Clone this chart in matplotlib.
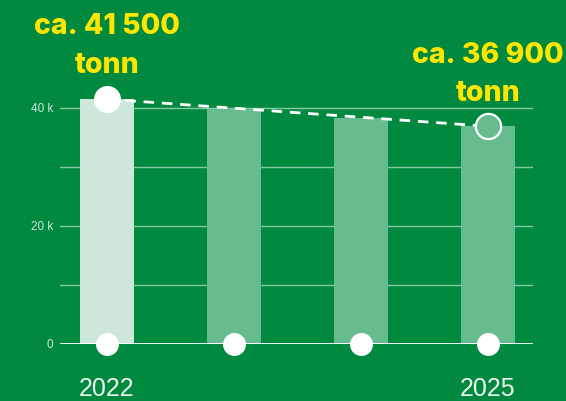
import matplotlib.pyplot as plt
import matplotlib.transforms as mtransforms
import numpy as np

plt.rcParams['font.family'] = ['Liberation Sans', 'DejaVu Sans']

# data
years = ['2022', '2023', '2024', '2025']
values = [41500, 39800, 38300, 36900]
year_labels = ['2022', '', '', '2025']
ticks = [0, 20000, 40000]
tick_labels = ['0', '20 k', '40 k']
grid_vals = [10000, 20000, 30000, 40000]
first_note = ['ca. 41 500', 'tonn']
last_note = ['ca. 36 900', 'tonn']

BG = '#00893F'
LIGHT = '#CDE8D8'
MID = '#66BB8F'
YELLOW = '#FFE600'

W, H = 566, 401
fig = plt.figure(figsize=(W / 100, H / 100), dpi=100, facecolor=BG)
# axes area in pixels: x 60..533, baseline at y=344, 40k at y=108
ax = fig.add_axes([60 / W, (H - 344) / H, 473 / W, 294 / H])
ax.set_facecolor(BG)
ax.set_xlim(-47 / 127, 426 / 127)
ax.set_ylim(0, 294 * 40000 / 236)

x = np.arange(len(values))
colors = [LIGHT] + [MID] * (len(values) - 1)

for g in grid_vals:
    ax.axhline(g, color='#a6d8bc', lw=1, alpha=0.8, zorder=1)
ax.bar(x, values, width=54 / 127, color=colors, zorder=2)
ax.axhline(0, color='white', lw=2, zorder=3)

# trend line between first and last
ax.plot([x[0], x[-1]], [values[0], values[-1]], color='white', lw=2,
        ls=(0, (3.8, 2.8)), zorder=4)
ax.scatter([x[0]], [values[0]], s=340, color='white', zorder=5, clip_on=False)
ax.scatter([x[-1]], [values[-1]], s=330, facecolor=MID, edgecolor='white',
           linewidth=1.6, zorder=5, clip_on=False)
ax.scatter(x, [0] * len(x), s=240, color='white', zorder=5, clip_on=False)

# x in data, y in figure pixels (from top)
trans = mtransforms.blended_transform_factory(ax.transData, fig.transFigure)


def note(xc, lines, baselines):
    for line, py in zip(lines, baselines):
        ax.text(xc, (H - py) / H, line, transform=trans, ha='center',
                va='baseline', fontsize=20.5, fontweight='heavy',
                color=YELLOW, family=['Inter', 'DejaVu Sans'], clip_on=False)


note(x[0], first_note, [34, 73])
note(x[-1], last_note, [63, 101])

for xi, lab in zip(x, year_labels):
    ax.text(xi, (H - 396) / H, lab, transform=trans, ha='center',
            va='baseline', fontsize=18, color='#eef7f1')

ax.set_yticks(ticks)
ax.set_yticklabels(tick_labels, fontsize=8.5, color=LIGHT)
ax.tick_params(axis='y', length=0, pad=5)
ax.set_xticks([])
for s in ax.spines.values():
    s.set_visible(False)

fig.savefig('out.png', dpi=100, facecolor=BG)
